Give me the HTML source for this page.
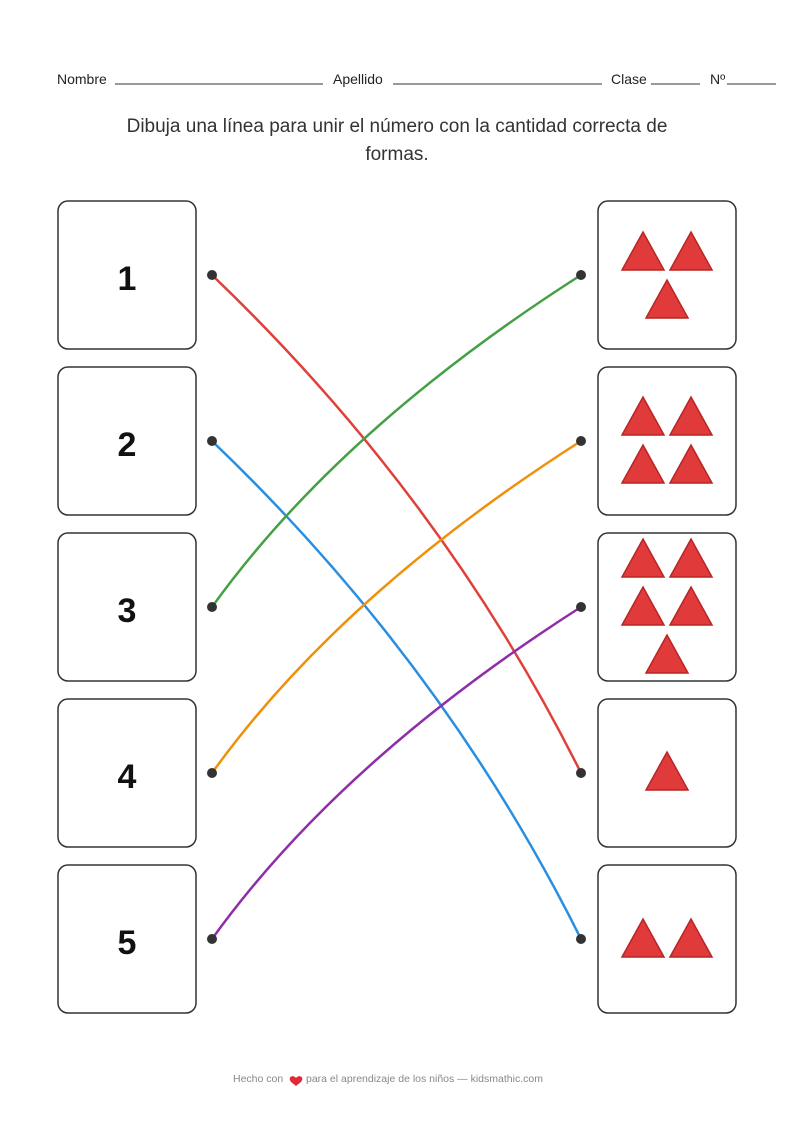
<!DOCTYPE html>
<html><head><meta charset="utf-8"><style>
body{margin:0;background:#fff;font-family:"Liberation Sans",sans-serif;}
.page{position:relative;width:794px;height:1123px;overflow:hidden;}
</style></head><body><div class="page">
<svg width="794" height="1123" xmlns="http://www.w3.org/2000/svg" style="position:absolute;left:0;top:0">
<g font-family="Liberation Sans, sans-serif" fill="#222">
<text x="57" y="84" font-size="14">Nombre</text>
<line x1="115" y1="84" x2="323" y2="84" stroke="#333" stroke-width="1"/>
<text x="333" y="84" font-size="14">Apellido</text>
<line x1="393" y1="84" x2="602" y2="84" stroke="#333" stroke-width="1"/>
<text x="611" y="84" font-size="14">Clase</text>
<line x1="651" y1="84" x2="700" y2="84" stroke="#333" stroke-width="1"/>
<text x="710" y="84" font-size="14">Nº</text>
<line x1="727" y1="84" x2="776" y2="84" stroke="#333" stroke-width="1"/>
<text x="397" y="132" font-size="19" text-anchor="middle" fill="#333">Dibuja una línea para unir el número con la cantidad correcta de</text>
<text x="397" y="160" font-size="19" text-anchor="middle" fill="#333">formas.</text>
</g>
<g fill="#fff" stroke="#333" stroke-width="1.5">
<rect x="58" y="201" width="138" height="148" rx="10"/>
<rect x="58" y="367" width="138" height="148" rx="10"/>
<rect x="58" y="533" width="138" height="148" rx="10"/>
<rect x="58" y="699" width="138" height="148" rx="10"/>
<rect x="58" y="865" width="138" height="148" rx="10"/>
<rect x="598" y="201" width="138" height="148" rx="10"/>
<rect x="598" y="367" width="138" height="148" rx="10"/>
<rect x="598" y="533" width="138" height="148" rx="10"/>
<rect x="598" y="699" width="138" height="148" rx="10"/>
<rect x="598" y="865" width="138" height="148" rx="10"/>
</g>
<g font-family="Liberation Sans, sans-serif" font-weight="bold" font-size="34" text-anchor="middle" fill="#111">
<text x="127" y="290">1</text><text x="127" y="456">2</text><text x="127" y="622">3</text><text x="127" y="788">4</text><text x="127" y="954">5</text>
</g>
<defs><polygon id="t" points="21,0 42,38 0,38" fill="#e03a3a" stroke="#b82525" stroke-width="1.5"/></defs>
<use href="#t" x="622" y="232"/><use href="#t" x="670" y="232"/><use href="#t" x="646" y="280"/>
<use href="#t" x="622" y="397"/><use href="#t" x="670" y="397"/><use href="#t" x="622" y="445"/><use href="#t" x="670" y="445"/>
<use href="#t" x="622" y="539"/><use href="#t" x="670" y="539"/><use href="#t" x="622" y="587"/><use href="#t" x="670" y="587"/><use href="#t" x="646" y="635"/>
<use href="#t" x="646" y="752"/>
<use href="#t" x="622" y="919"/><use href="#t" x="670" y="919"/>
<g fill="none" stroke-width="2.5">
<path d="M212 275 Q443 496 581 773" stroke="#e0403a"/>
<path d="M212 441 Q443 662 581 939" stroke="#2a8ee0"/>
<path d="M212 607 Q340 429 581 275" stroke="#45a045"/>
<path d="M212 773 Q340 595 581 441" stroke="#f0900a"/>
<path d="M212 939 Q340 761 581 607" stroke="#8e2ea8"/>
</g>
<g fill="#333">
<circle cx="212" cy="275" r="5"/><circle cx="212" cy="441" r="5"/><circle cx="212" cy="607" r="5"/><circle cx="212" cy="773" r="5"/><circle cx="212" cy="939" r="5"/>
<circle cx="581" cy="275" r="5"/><circle cx="581" cy="441" r="5"/><circle cx="581" cy="607" r="5"/><circle cx="581" cy="773" r="5"/><circle cx="581" cy="939" r="5"/>
</g>
<text x="233" y="1082" font-family="Liberation Sans, sans-serif" font-size="10.5" fill="#888">Hecho con</text>
<path d="M296 1078 c-3-4 -9-1 -5 4 l5 4 l5-4 c4-5 -2-8 -5-4z" fill="#e02a3a"/>
<text x="306" y="1082" font-family="Liberation Sans, sans-serif" font-size="10.5" fill="#888">para el aprendizaje de los niños — kidsmathic.com</text>
</svg>
</div></body></html>
